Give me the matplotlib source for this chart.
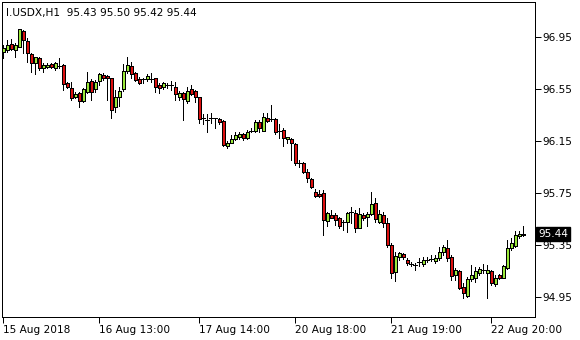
import matplotlib
matplotlib.use("Agg")
import matplotlib.pyplot as plt
import numpy as np

opens = [96.841, 96.852, 96.898, 96.856, 96.879, 97.000, 96.923, 96.821, 96.756, 96.790,
         96.713, 96.723, 96.748, 96.718, 96.733, 96.739, 96.598, 96.559, 96.494, 96.525,
         96.462, 96.533, 96.618, 96.554, 96.618, 96.662, 96.654, 96.636, 96.413, 96.495,
         96.552, 96.695, 96.733, 96.679, 96.633, 96.628, 96.633, 96.633, 96.638, 96.587,
         96.567, 96.587, 96.587, 96.572, 96.495, 96.521, 96.462, 96.554, 96.539, 96.490,
         96.328, 96.315, 96.328, 96.328, 96.321, 96.308, 96.116, 96.138, 96.169, 96.182,
         96.205, 96.179, 96.233, 96.233, 96.298, 96.231, 96.333, 96.323, 96.323, 96.231,
         96.239, 96.167, 96.169, 96.131, 95.987, 95.982, 95.918, 95.862, 95.764, 95.744,
         95.751, 95.538, 95.585, 95.585, 95.564, 95.528, 95.528, 95.606, 95.598, 95.487,
         95.585, 95.567, 95.592, 95.679, 95.533, 95.585, 95.526, 95.354, 95.148, 95.259,
         95.285, 95.238, 95.205, 95.202, 95.225, 95.208, 95.238, 95.246, 95.233, 95.256,
         95.302, 95.328, 95.259, 95.123, 95.154, 95.033, 94.964, 95.092, 95.102, 95.136,
         95.162, 95.136, 95.154, 95.051, 95.123, 95.102, 95.180, 95.328, 95.349, 95.426,
         95.43]
highs = [96.893, 96.931, 96.939, 96.908, 97.015, 97.008, 96.946, 96.831, 96.800, 96.800,
         96.754, 96.752, 96.756, 96.764, 96.792, 96.746, 96.610, 96.608, 96.533, 96.533,
         96.564, 96.685, 96.631, 96.623, 96.679, 96.675, 96.662, 96.638, 96.546, 96.572,
         96.746, 96.798, 96.764, 96.687, 96.644, 96.636, 96.669, 96.675, 96.638, 96.598,
         96.608, 96.602, 96.618, 96.610, 96.539, 96.533, 96.572, 96.585, 96.546, 96.495,
         96.359, 96.359, 96.367, 96.333, 96.328, 96.315, 96.154, 96.200, 96.226, 96.226,
         96.218, 96.239, 96.252, 96.315, 96.315, 96.367, 96.367, 96.431, 96.333, 96.282,
         96.252, 96.187, 96.179, 96.141, 96.008, 95.995, 95.939, 95.872, 95.782, 95.777,
         95.777, 95.610, 95.623, 95.598, 95.572, 95.546, 95.610, 95.649, 95.623, 95.639,
         95.602, 95.610, 95.764, 95.713, 95.623, 95.610, 95.559, 95.367, 95.302, 95.302,
         95.295, 95.251, 95.225, 95.218, 95.251, 95.259, 95.259, 95.277, 95.277, 95.341,
         95.354, 95.392, 95.277, 95.174, 95.162, 95.059, 95.110, 95.200, 95.187, 95.187,
         95.205, 95.200, 95.162, 95.123, 95.128, 95.200, 95.392, 95.405, 95.459, 95.459,
         95.50]
lows = [96.792, 96.838, 96.854, 96.800, 96.877, 96.831, 96.762, 96.685, 96.669, 96.700,
        96.685, 96.713, 96.718, 96.700, 96.715, 96.546, 96.559, 96.473, 96.482, 96.418,
        96.452, 96.521, 96.469, 96.533, 96.585, 96.623, 96.469, 96.328, 96.379, 96.423,
        96.541, 96.675, 96.636, 96.618, 96.592, 96.598, 96.615, 96.610, 96.533, 96.521,
        96.552, 96.559, 96.546, 96.471, 96.471, 96.315, 96.444, 96.508, 96.456, 96.290,
        96.282, 96.226, 96.290, 96.252, 96.282, 96.116, 96.102, 96.136, 96.162, 96.169,
        96.162, 96.167, 96.221, 96.226, 96.226, 96.231, 96.302, 96.308, 96.205, 96.179,
        96.118, 96.138, 96.008, 95.969, 95.956, 95.905, 95.836, 95.790, 95.726, 95.726,
        95.431, 95.502, 95.559, 95.508, 95.482, 95.469, 95.454, 95.521, 95.454, 95.482,
        95.546, 95.500, 95.585, 95.533, 95.521, 95.494, 95.341, 95.097, 95.079, 95.238,
        95.244, 95.200, 95.192, 95.162, 95.192, 95.192, 95.225, 95.233, 95.218, 95.238,
        95.277, 95.231, 95.085, 95.085, 95.015, 94.949, 94.956, 95.077, 95.072, 95.123,
        95.136, 94.949, 95.046, 95.041, 95.092, 95.097, 95.169, 95.315, 95.341, 95.410,
        95.42]
closes = [96.867, 96.893, 96.862, 96.893, 97.013, 96.931, 96.829, 96.752, 96.798, 96.718,
          96.739, 96.739, 96.723, 96.754, 96.733, 96.590, 96.567, 96.487, 96.513, 96.462,
          96.554, 96.606, 96.533, 96.606, 96.669, 96.636, 96.636, 96.392, 96.495, 96.541,
          96.692, 96.739, 96.667, 96.623, 96.602, 96.628, 96.654, 96.633, 96.567, 96.559,
          96.598, 96.587, 96.587, 96.513, 96.521, 96.477, 96.539, 96.518, 96.492, 96.323,
          96.328, 96.315, 96.328, 96.328, 96.302, 96.123, 96.136, 96.169, 96.200, 96.208,
          96.179, 96.221, 96.233, 96.302, 96.256, 96.336, 96.308, 96.323, 96.226, 96.231,
          96.179, 96.182, 96.136, 95.987, 95.987, 95.918, 95.867, 95.802, 95.733, 95.731,
          95.546, 95.598, 95.564, 95.546, 95.502, 95.528, 95.598, 95.606, 95.487, 95.590,
          95.559, 95.592, 95.669, 95.551, 95.592, 95.526, 95.354, 95.136, 95.269, 95.290,
          95.264, 95.218, 95.205, 95.202, 95.225, 95.238, 95.238, 95.246, 95.256, 95.302,
          95.341, 95.251, 95.118, 95.162, 95.021, 94.982, 95.092, 95.123, 95.154, 95.167,
          95.162, 95.162, 95.059, 95.102, 95.097, 95.195, 95.328, 95.367, 95.431, 95.436,
          95.44]

price_ticks = [96.95, 96.55, 96.15, 95.75, 95.35, 94.95]
time_tick_bars = [0, 24, 49, 73, 97, 122]
time_tick_labels = ["15 Aug 2018", "16 Aug 13:00", "17 Aug 14:00",
                    "20 Aug 18:00", "21 Aug 19:00", "22 Aug 20:00"]
header = "I.USDX,H1  95.43 95.50 95.42 95.44"
last_price = 95.44

BULL = "#9ae83a"
BEAR = "#dc1010"
plt.rcParams["font.family"] = ["DejaVu Sans"]

fig = plt.figure(figsize=(5.8, 3.4), dpi=100)
ax = fig.add_axes([2 / 580, 23 / 340, 533 / 580, 315 / 340])

o = np.array(opens); h = np.array(highs); l = np.array(lows); c = np.array(closes)
x = np.arange(len(o))
lw = 0.72

ax.vlines(x, l, h, color="black", linewidth=lw, zorder=1, antialiased=False)
doji = np.abs(c - o) < 0.002
body = ~doji
cols = np.where(c >= o, BULL, BEAR)
bars = ax.bar(x[body], (c - o)[body], bottom=o[body], width=0.75,
              color=cols[body], edgecolor="black", linewidth=0.6, zorder=2)
for b in bars:
    b.set_antialiased(False)
ax.hlines(o[doji], x[doji] - 0.38, x[doji] + 0.38, color="black", linewidth=lw,
          zorder=2, antialiased=False)

ax.set_xlim(-0.25, 133)
ax.set_ylim(94.800, 97.223)

ax.yaxis.tick_right()
ax.set_yticks(price_ticks)
ax.set_yticklabels([f"{p:.2f}" for p in price_ticks])
ax.set_xticks(time_tick_bars)
ax.set_xticklabels(time_tick_labels)
for lab in ax.get_xticklabels():
    lab.set_horizontalalignment("left")
ax.tick_params(axis="both", direction="out", length=4, width=0.72, color="black",
               labelsize=7.6, labelcolor="black")
ax.tick_params(axis="y", pad=1.5)
ax.tick_params(axis="x", pad=2)
for s in ax.spines.values():
    s.set_linewidth(0.72)
    s.set_color("black")

ax.text(0.008, 0.965, header, transform=ax.transAxes, fontsize=7.6,
        ha="left", va="center", color="black")

ax.annotate(f"{last_price:.2f}", xy=(1.0, last_price), xycoords=("axes fraction", "data"),
            xytext=(2.5, 0), textcoords="offset points", ha="left", va="center",
            fontsize=7.6, color="white",
            bbox=dict(boxstyle="square,pad=0.2", fc="black", ec="black"))

fig.savefig("out.png", dpi=100)
